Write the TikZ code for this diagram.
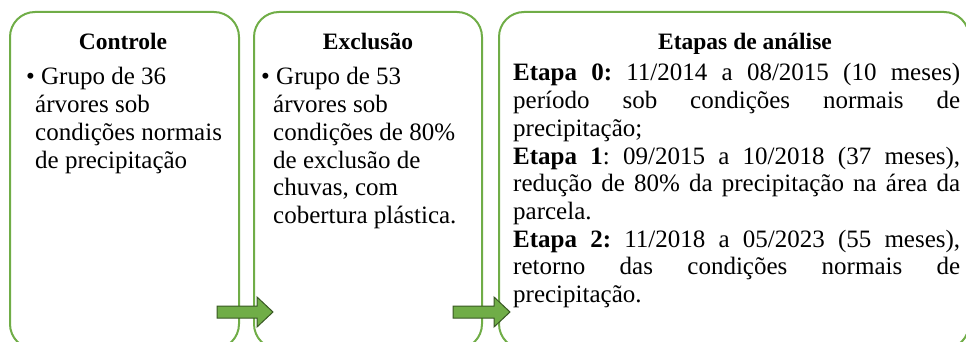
\documentclass[tikz,border=0pt]{standalone}
\usepackage{fontspec}
\setmainfont{Liberation Serif}
\newfontfamily\timesfont{Liberation Serif}
\definecolor{boxgreen}{RGB}{112,173,71}
\definecolor{arrowedge}{RGB}{56,87,35}
\begin{document}
\frenchspacing
\begin{tikzpicture}[x=1pt,y=-1pt,
  panel/.style={draw=boxgreen,line width=2pt,rounded corners=25pt,anchor=north west,inner sep=0pt},
  title/.style={font=\timesfont\fontsize{23.5}{27}\selectfont\bfseries,anchor=base,inner sep=0pt},
  body/.style={font=\timesfont\fontsize{25}{27.7}\selectfont,anchor=base west,inner sep=0pt},
  blockarrow/.style={draw=arrowedge,fill=boxgreen,line width=1pt,line join=miter}
]
\useasboundingbox (0,0) rectangle (966,342);
\clip (0,0) rectangle (966,342);
% panels
\node[panel,minimum width=229pt,minimum height=337pt] (ctrl) at (9,11) {};
\node[panel,minimum width=228pt,minimum height=337pt] (excl) at (253,11) {};
\node[panel,minimum width=470pt,minimum height=337pt] (etap) at (498,11) {};
% titles
\node[title] (t1) at (123,50) {Controle};
\node[title] (t2) at (368,50) {Exclusão};
\node[title] (t3) at (745,50) {Etapas de análise};
% box 1
\node[body] (c1) at (26,85) {• Grupo de 36};
\node[body] (c2) at (35,112.7) {árvores sob};
\node[body] (c3) at (35,140.4) {condições normais};
\node[body] (c4) at (35,168.1) {de precipitação};
% box 2
\node[body] (e1) at (261,85) {• Grupo de 53};
\node[body] (e2) at (273,112.7) {árvores sob};
\node[body] (e3) at (273,140.4) {condições de 80\%};
\node[body] (e4) at (273,168.1) {de exclusão de};
\node[body] (e5) at (273,195.8) {chuvas, com};
\node[body] (e6) at (273,223.5) {cobertura plástica.};
% box 3
\node[body] (s1) at (513,81) {\makebox[447pt][s]{\textbf{Etapa 0:} 11/2014 a 08/2015 (10 meses)}};
\node[body] (s2) at (513,108.7) {\makebox[447pt][s]{período sob condições normais de}};
\node[body] (s3) at (513,136.4) {precipitação;};
\node[body] (s4) at (513,164.1) {\makebox[447pt][s]{\textbf{Etapa 1}: 09/2015 a 10/2018 (37 meses),}};
\node[body] (s5) at (513,191.8) {\makebox[447pt][s]{redução de 80\% da precipitação na área da}};
\node[body] (s6) at (513,219.5) {parcela.};
\node[body] (s7) at (513,247.2) {\makebox[447pt][s]{\textbf{Etapa 2:} 11/2018 a 05/2023 (55 meses),}};
\node[body] (s8) at (513,274.9) {\makebox[447pt][s]{retorno das condições normais de}};
\node[body] (s9) at (513,302.6) {precipitação.};
% arrows
\draw[blockarrow] (217,306) -- (257,306) -- (257,297) -- (273,312) -- (257,327) -- (257,318) -- (217,318) -- cycle;
\draw[blockarrow] (453,306) -- (494,306) -- (494,297) -- (510,312) -- (494,327) -- (494,318) -- (453,318) -- cycle;
\end{tikzpicture}
\end{document}
